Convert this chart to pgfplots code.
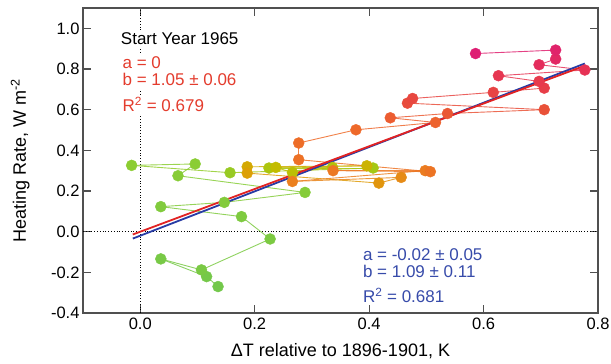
\documentclass[border=0pt]{standalone}
\usepackage{fontspec}
\setmainfont{Liberation Sans}
\usepackage{pgfplots}
\pgfplotsset{compat=1.18}
\usepackage{pgfplotstable}

\definecolor{fitred}{RGB}{225,35,35}
\definecolor{fitblue}{RGB}{40,60,165}
\definecolor{txtred}{RGB}{228,60,45}
\definecolor{txtblue}{RGB}{55,75,170}
\definecolor{axgray}{RGB}{80,80,80}

\pgfplotstableread{
x y t
0.136 -0.270 0
0.116 -0.221 1
0.036 -0.134 2
0.107 -0.188 3
0.227 -0.036 4
0.177 0.074 5
0.036 0.123 6
0.147 0.144 7
0.288 0.193 8
0.066 0.275 9
0.096 0.333 10
-0.015 0.326 11
0.157 0.290 12
0.407 0.313 13
0.225 0.313 14
0.336 0.316 15
0.266 0.291 16
0.237 0.316 17
0.396 0.324 18
0.187 0.319 19
0.187 0.288 20
0.417 0.239 21
0.456 0.267 22
0.266 0.247 23
0.498 0.300 24
0.337 0.300 25
0.507 0.295 26
0.277 0.354 27
0.277 0.436 28
0.377 0.501 29
0.516 0.537 30
0.437 0.560 31
0.537 0.581 32
0.706 0.600 33
0.467 0.632 34
0.476 0.655 35
0.617 0.685 36
0.706 0.706 37
0.697 0.739 38
0.626 0.767 39
0.777 0.795 40
0.697 0.821 41
0.726 0.849 42
0.726 0.893 43
0.586 0.876 44
}\series

\begin{document}
\begin{tikzpicture}
\begin{axis}[
  scale only axis, width=515pt, height=305pt,
  xmin=-0.1, xmax=0.8, ymin=-0.4, ymax=1.1,
  xtick={0,0.2,0.4,0.6,0.8}, xticklabels={0.0,0.2,0.4,0.6,0.8},
  ytick={-0.4,-0.2,0,0.2,0.4,0.6,0.8,1.0},
  yticklabels={-0.4,-0.2,0.0,0.2,0.4,0.6,0.8,1.0},
  tick align=inside, major tick length=8pt,
  axis line style={axgray, line width=1.3pt},
  tick style={axgray, line width=1.2pt},
  ticklabel style={font=\fontsize{16.5}{19}\selectfont},
  xticklabel style={anchor=base, yshift=-16.5pt},
  label style={font=\fontsize{18}{21}\selectfont},
  xlabel={ΔT relative to 1896-1901, K},
  ylabel={Heating Rate, W m\textsuperscript{-2}},
  xlabel style={at={(axis description cs:0.5,0)}, anchor=base, yshift=-44pt},
  ylabel style={at={(axis description cs:-0.1107,0.5)}, anchor=base},
  colormap={yr}{rgb255(0pt)=(115,200,75) rgb255(11pt)=(140,205,50) rgb255(13pt)=(165,200,20) rgb255(17pt)=(195,188,0) rgb255(20pt)=(220,160,5) rgb255(23pt)=(235,128,30) rgb255(29pt)=(238,105,42) rgb255(34pt)=(232,75,60) rgb255(40pt)=(230,50,85) rgb255(44pt)=(222,30,115)},
  point meta min=0, point meta max=44,
]
\coordinate (sw) at (rel axis cs:0,0);
\coordinate (ne) at (rel axis cs:1,1);
\addplot[black, dotted, line width=0.8pt] coordinates {(0,-0.4) (0,1.1)};
\addplot[black, dotted, line width=0.8pt] coordinates {(-0.1,0) (0.8,0)};
\addplot[mesh, shader=flat, line width=0.9pt, opacity=0.85, point meta=\thisrow{t}] table[x=x, y=y] {\series};
\addplot[scatter, only marks, mark=*, mark size=5.5pt, point meta=\thisrow{t},
  scatter/use mapped color={draw=mapped color, fill=mapped color}] table[x=x, y=y] {\series};
\addplot[fitblue, line width=1.8pt] coordinates {(-0.013,-0.034) (0.777,0.827)};
\addplot[fitred, line width=1.8pt] coordinates {(-0.013,-0.014) (0.777,0.816)};
\begin{scope}[every node/.style={anchor=base west, inner xsep=0pt, inner ysep=2.5pt, fill=white, font=\fontsize{17}{20}\selectfont}]
\node[text=black] at (axis cs:-0.034,0.9215) {Start Year 1965};
\node[text=txtred] at (axis cs:-0.031,0.8034) {a = 0};
\node[text=txtred] at (axis cs:-0.031,0.7164) {b = 1.05 ± 0.06};
\node[text=txtred] at (axis cs:-0.031,0.590) {R\textsuperscript{2} = 0.679};
\node[text=txtblue] at (axis cs:0.389,-0.1428) {a = -0.02 ± 0.05};
\node[text=txtblue] at (axis cs:0.389,-0.2264) {b = 1.09 ± 0.11};
\node[text=txtblue] at (axis cs:0.389,-0.3494) {R\textsuperscript{2} = 0.681};
\end{scope}
\end{axis}
\pgfresetboundingbox
\path ([shift={(-83pt,-51pt)}]sw) rectangle ([shift={(13pt,8pt)}]ne);
\end{tikzpicture}
\end{document}
